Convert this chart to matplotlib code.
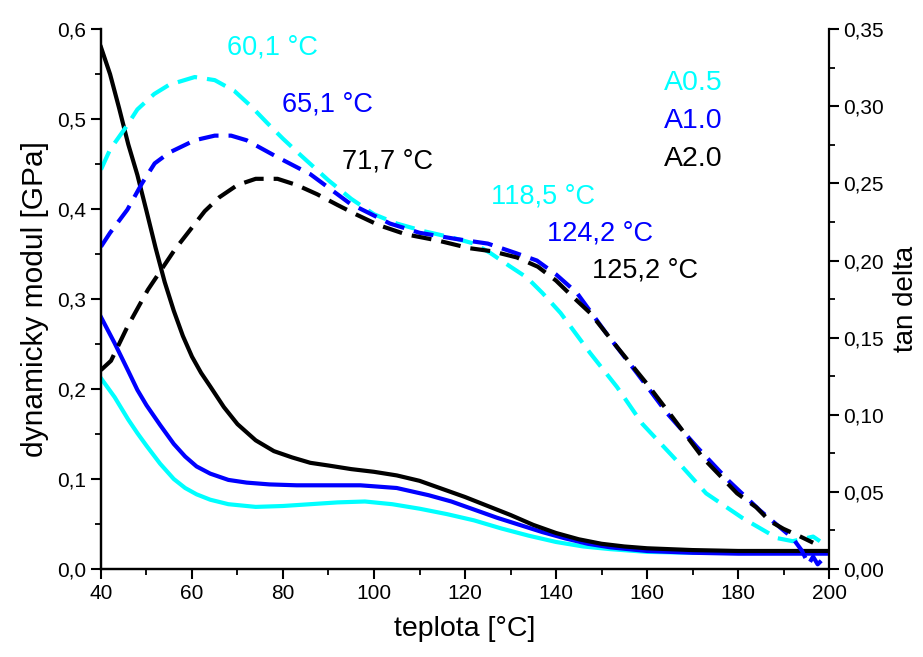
import matplotlib
matplotlib.use("Agg")
import matplotlib.pyplot as plt
from matplotlib.ticker import MultipleLocator, FuncFormatter

plt.rcParams['font.family'] = ['Liberation Sans', 'DejaVu Sans']

CYAN = '#00FFFF'
BLUE = '#0000FF'
BLACK = '#000000'

# --- dynamic modulus [GPa] (solid, left axis) ---
t_mod_a05 = [40, 43, 46, 48, 50, 53, 56, 58.5, 61, 64, 68, 74, 80, 86, 92, 98, 104, 110,
             116, 122, 128, 134, 140, 146, 152, 160, 170, 185, 200]
mod_a05 = [0.212, 0.191, 0.166, 0.151, 0.137, 0.117, 0.100, 0.090, 0.083, 0.077, 0.072,
           0.069, 0.070, 0.072, 0.074, 0.075, 0.072, 0.067, 0.061, 0.054, 0.045, 0.037,
           0.030, 0.025, 0.022, 0.019, 0.018, 0.018, 0.018]

t_mod_a10 = [40, 43, 46, 48, 50, 53, 56, 58.5, 61, 64, 68, 72, 77, 83, 90, 97, 105, 112,
             117, 122, 127, 132, 137, 142, 147, 152, 160, 170, 180, 200]
mod_a10 = [0.280, 0.251, 0.220, 0.199, 0.182, 0.160, 0.139, 0.125, 0.114, 0.106, 0.099,
           0.096, 0.094, 0.093, 0.093, 0.093, 0.090, 0.082, 0.075, 0.066, 0.057, 0.049,
           0.041, 0.034, 0.028, 0.024, 0.020, 0.018, 0.017, 0.017]

t_mod_a20 = [40, 42, 44, 46, 48, 50, 52, 54, 56, 58, 60, 62, 64, 67, 70, 74, 78, 82, 86,
             90, 95, 100, 105, 110, 115, 120, 125, 130, 135, 140, 145, 150, 155, 160,
             170, 180, 190, 200]
mod_a20 = [0.580, 0.550, 0.512, 0.472, 0.438, 0.398, 0.357, 0.319, 0.287, 0.259, 0.236,
           0.218, 0.203, 0.180, 0.161, 0.143, 0.131, 0.124, 0.118, 0.115, 0.111, 0.108,
           0.104, 0.098, 0.089, 0.080, 0.070, 0.060, 0.049, 0.040, 0.033, 0.028, 0.025,
           0.023, 0.021, 0.020, 0.020, 0.020]

# --- tan delta (dashed, right axis) ---
t_tan_a05 = [40, 42, 45.6, 48, 51.7, 55, 60.6, 65, 69.3, 73, 76.6, 80, 84, 90, 95, 100,
             105, 111, 117, 122, 125.5, 130, 133.6, 137, 141, 147.5, 153.4, 159, 166.6,
             173, 181, 188.6, 192, 196.5, 198]
tan_a05 = [0.259, 0.272, 0.287, 0.298, 0.308, 0.314, 0.319, 0.317, 0.310, 0.300, 0.289,
           0.279, 0.268, 0.252, 0.240, 0.230, 0.224, 0.219, 0.215, 0.211, 0.205, 0.196,
           0.189, 0.179, 0.166, 0.140, 0.118, 0.094, 0.070, 0.049, 0.033, 0.020, 0.018,
           0.021, 0.018]

t_tan_a10 = [40, 42, 45.8, 49, 51.8, 55, 60.6, 65, 68.6, 72, 78.8, 86, 94.7, 103.5, 110,
             118, 125, 131, 135.8, 140, 144.6, 151, 157.8, 164.4, 171, 178, 184.8, 190,
             192, 194, 195.5, 196.5, 197.5, 198.5]
tan_a10 = [0.209, 0.218, 0.233, 0.250, 0.263, 0.270, 0.278, 0.281, 0.281, 0.278, 0.267,
           0.256, 0.237, 0.224, 0.218, 0.214, 0.211, 0.205, 0.200, 0.191, 0.179, 0.153,
           0.127, 0.101, 0.079, 0.057, 0.038, 0.025, 0.020, 0.012, 0.003, 0.008, 0.003,
           0.006]

t_tan_a20 = [40, 42.2, 45.8, 50.3, 56.2, 62.8, 66, 70, 74, 78.8, 83, 87.5, 92, 96, 101,
             107, 114, 121, 126, 131.4, 136, 140, 143.5, 147.5, 153.4, 160, 165.7, 172.3,
             179.8, 184, 187, 190, 193, 196.5]
tan_a20 = [0.129, 0.135, 0.157, 0.181, 0.207, 0.232, 0.241, 0.249, 0.253, 0.253, 0.249,
           0.243, 0.236, 0.230, 0.223, 0.217, 0.213, 0.208, 0.206, 0.202, 0.196, 0.187,
           0.177, 0.166, 0.144, 0.120, 0.098, 0.072, 0.049, 0.040, 0.031, 0.026, 0.022,
           0.017]

# peak temperatures of tan delta: (label, colour, x, y in modulus units)
peak_labels = ['60,1 °C', '65,1 °C', '71,7 °C', '118,5 °C', '124,2 °C', '125,2 °C']
peak_colors = [CYAN, BLUE, BLACK, CYAN, BLUE, BLACK]
peak_x = [77.7, 89.8, 103.0, 137.1, 149.7, 159.6]
peak_y = [0.580, 0.516, 0.453, 0.414, 0.373, 0.332]

series_names = ['A0.5', 'A1.0', 'A2.0']
series_colors = [CYAN, BLUE, BLACK]

fig = plt.figure(figsize=(9.23, 6.57), dpi=100)
ax = fig.add_axes([0.1094, 0.134, 0.7888, 0.8215])
ax2 = ax.twinx()

lw = 3.0
ax.plot(t_mod_a05, mod_a05, color=CYAN, lw=lw, solid_joinstyle='round')
ax.plot(t_mod_a10, mod_a10, color=BLUE, lw=lw, solid_joinstyle='round')
ax.plot(t_mod_a20, mod_a20, color=BLACK, lw=lw, solid_joinstyle='round')

dash = (4.8, 2.4)
ax2.plot(t_tan_a05, tan_a05, color=CYAN, lw=lw, dashes=dash)
ax2.plot(t_tan_a10, tan_a10, color=BLUE, lw=lw, dashes=dash)
ax2.plot(t_tan_a20, tan_a20, color=BLACK, lw=lw, dashes=dash)

ax.set_xlim(40, 200)
ax.set_ylim(0, 0.6)
ax2.set_ylim(0, 0.35)

ax.xaxis.set_major_locator(MultipleLocator(20))
ax.xaxis.set_minor_locator(MultipleLocator(10))
ax.yaxis.set_major_locator(MultipleLocator(0.1))
ax.yaxis.set_minor_locator(MultipleLocator(0.05))
ax2.yaxis.set_major_locator(MultipleLocator(0.05))
ax2.yaxis.set_minor_locator(MultipleLocator(0.025))

ax.yaxis.set_major_formatter(FuncFormatter(lambda v, p: f"{v:.1f}".replace('.', ',')))
ax2.yaxis.set_major_formatter(FuncFormatter(lambda v, p: f"{v:.2f}".replace('.', ',')))
ax.xaxis.set_major_formatter(FuncFormatter(lambda v, p: f"{v:.0f}"))

for a in (ax, ax2):
    a.spines['top'].set_visible(False)
    for s in a.spines.values():
        s.set_linewidth(1.6)
    a.tick_params(which='major', length=7, width=1.5, labelsize=15, direction='out')
    a.tick_params(which='minor', length=4.5, width=1.3, direction='out')
ax.spines['right'].set_visible(False)

ax.set_xlabel('teplota [°C]', fontsize=20.5, labelpad=10)
ax.set_ylabel('dynamicky modul [GPa]', fontsize=21.5, labelpad=6)
ax2.set_ylabel('tan delta', fontsize=20, labelpad=6)

for lab, col, x, y in zip(peak_labels, peak_colors, peak_x, peak_y):
    ax.text(x, y, lab, color=col, fontsize=19.5, ha='center', va='center')

for i, (name, col) in enumerate(zip(series_names, series_colors)):
    ax.text(0.773, 0.901 - i * 0.0705, name, color=col, fontsize=20.5,
            ha='left', va='center', transform=ax.transAxes)

fig.savefig('out.png', dpi=100)
